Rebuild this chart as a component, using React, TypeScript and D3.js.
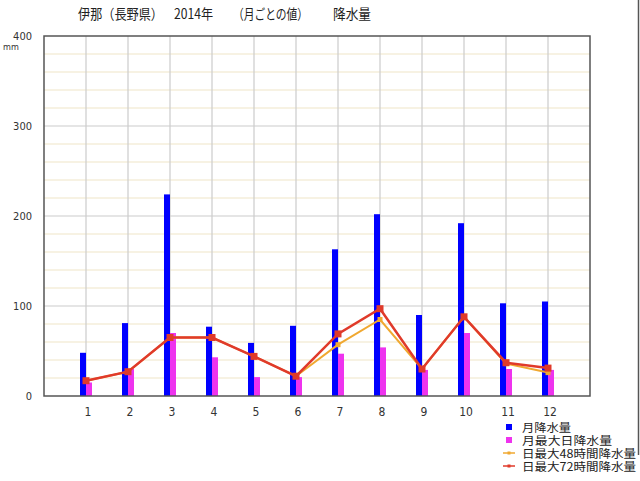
import React from 'react';
import * as d3 from 'd3';

const months = [1, 2, 3, 4, 5, 6, 7, 8, 9, 10, 11, 12];
const monthlyTotal = [48, 81, 224, 77, 59, 78, 163, 202, 90, 192, 103, 105];
const maxDaily = [15, 30, 70, 43, 21, 21, 47, 54, 29, 70, 30, 29];
const max48h = [17, 27, 65, 65, 44, 22, 57, 85, 30, 88, 36, 26];
const max72h = [17, 27, 65, 65, 44, 22, 69, 97, 30, 88, 37, 31];
const yTicks = [0, 100, 200, 300, 400];
const legendLabels = ['月降水量', '月最大日降水量', '日最大48時間降水量', '日最大72時間降水量'];

const W = 640;
const H = 481;
const JP = '"Noto Sans CJK JP", "Noto Sans", sans-serif';
const NUM = '"Liberation Sans Narrow", "DejaVu Sans Condensed", "Liberation Sans", sans-serif';

export default function App() {
  const x = d3.scaleLinear().domain([0, 13]).range([44, 590]);
  const y = d3.scaleLinear().domain([0, 400]).range([396, 36]);
  const barW = 6;

  const minor = d3.range(20, 400, 20).filter(v => v % 100 !== 0);
  const major = [100, 200, 300];

  const line = d3.line<number>()
    .x((_, i) => x(months[i]))
    .y(d => y(d));

  const legendY = [427, 440, 453, 466];
  const legendW = [49, 90, 114, 114];

  return (
    <svg width={W} height={H} style={{ position: 'absolute', left: 0, top: 0, background: '#fff' }}>
      {/* title */}
      <g fontFamily={JP} fontSize={14} fill="#222">
        <text x={78} y={19} textLength={85} lengthAdjust="spacingAndGlyphs">伊那（長野県）</text>
        <text x={174} y={19} textLength={39} lengthAdjust="spacingAndGlyphs">2014年</text>
        <text x={233} y={19} textLength={75} lengthAdjust="spacingAndGlyphs">（月ごとの値）</text>
        <text x={333} y={19} textLength={38} lengthAdjust="spacingAndGlyphs">降水量</text>
      </g>

      {/* grid */}
      {minor.map(v => (
        <line key={'mn' + v} x1={x(0)} x2={x(13)} y1={y(v)} y2={y(v)} stroke="#f0e6c8" strokeWidth={1.2} />
      ))}
      {major.map(v => (
        <line key={'mj' + v} x1={x(0)} x2={x(13)} y1={y(v)} y2={y(v)} stroke="#cccccc" strokeWidth={1.2} />
      ))}
      {months.map(m => (
        <line key={'v' + m} x1={x(m)} x2={x(m)} y1={y(400)} y2={y(0)} stroke="#cccccc" strokeWidth={1.2} />
      ))}

      {/* bars */}
      {monthlyTotal.map((v, i) => (
        <rect key={'b' + i} x={x(months[i]) - barW} y={y(v)} width={barW} height={y(0) - y(v)} fill="#0000ff" />
      ))}
      {maxDaily.map((v, i) => (
        <rect key={'m' + i} x={x(months[i])} y={y(v)} width={barW} height={y(0) - y(v)} fill="#ee33ee" />
      ))}

      {/* lines */}
      <path d={line(max48h) || ''} fill="none" stroke="#f0a830" strokeWidth={2} />
      {max48h.map((v, i) => (
        <rect key={'o' + i} x={x(months[i]) - 2.5} y={y(v) - 2.5} width={5} height={5} fill="#f0a830" />
      ))}
      <path d={line(max72h) || ''} fill="none" stroke="#e03a2a" strokeWidth={2.5} />
      {max72h.map((v, i) => (
        <rect key={'r' + i} x={x(months[i]) - 3.5} y={y(v) - 3.5} width={7} height={7} fill="#e03a2a" />
      ))}

      {/* frame */}
      <rect x={x(0)} y={y(400)} width={x(13) - x(0)} height={y(0) - y(400)} fill="none" stroke="#555" strokeWidth={1.5} />

      {/* y axis labels */}
      <g fontFamily={NUM} fontSize={11} fill="#333" textAnchor="end">
        {yTicks.map(t => (
          <text key={'yt' + t} x={32} y={y(t) + 4}>{t}</text>
        ))}
      </g>
      <text x={3} y={50} fontFamily={NUM} fontSize={9} fill="#333">mm</text>

      {/* x axis labels */}
      <g fontFamily={NUM} fontSize={12} fill="#333" textAnchor="middle">
        {months.map(m => (
          <text key={'xt' + m} x={x(m) + 2} y={416}>{m}</text>
        ))}
      </g>

      {/* right border */}
      <line x1={638.5} x2={638.5} y1={0} y2={455} stroke="#555" strokeWidth={1.5} />

      {/* legend */}
      <g fontFamily={JP} fontSize={11.5} fill="#222">
        <rect x={506} y={legendY[0] - 3} width={6} height={6} fill="#0000ff" />
        <rect x={506} y={legendY[1] - 3} width={6} height={6} fill="#ee33ee" />
        <line x1={503} x2={515} y1={legendY[2]} y2={legendY[2]} stroke="#f0a830" strokeWidth={1.5} />
        <rect x={507.5} y={legendY[2] - 1.5} width={3} height={3} fill="#f0a830" />
        <line x1={503} x2={515} y1={legendY[3]} y2={legendY[3]} stroke="#e03a2a" strokeWidth={1.5} />
        <rect x={507.5} y={legendY[3] - 1.5} width={3} height={3} fill="#e03a2a" />
        {legendLabels.map((l, i) => (
          <text key={'lg' + i} x={522} y={legendY[i] + 4.5} textLength={legendW[i]} lengthAdjust="spacingAndGlyphs">{l}</text>
        ))}
      </g>
    </svg>
  );
}
